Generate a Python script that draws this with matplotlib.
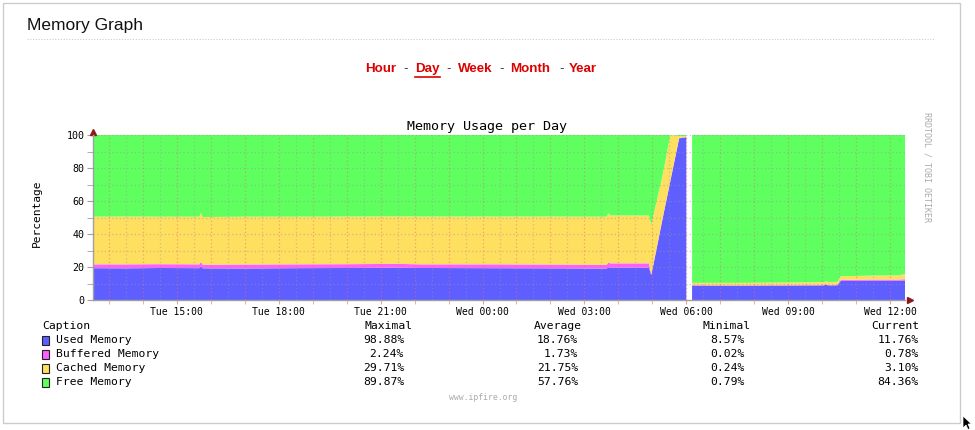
import numpy as np
import matplotlib.pyplot as plt
from matplotlib.patches import Rectangle, Polygon
from matplotlib.lines import Line2D

# ==========================
# DATA
# ==========================

# hours counted from Tue 00:00
hours = [12.53, 13.50, 14.50, 15.66, 15.71, 15.76, 17.00, 18.50, 20.00,
         21.50, 22.20, 24.00, 26.00, 27.65, 27.71, 27.76, 28.90, 28.97,
         29.32, 29.53, 29.79, 30.00, 30.08, 30.17, 31.50, 33.00, 34.05,
         34.10, 34.20, 34.45, 34.55, 35.50, 36.25, 36.44]

used = [19.3, 19.2, 19.4, 19.3, 20.5, 19.2, 19.1, 19.3, 19.4,
        19.6, 19.4, 19.3, 19.2, 19.0, 19.9, 19.6, 19.6, 15.0,
        51.0, 72.0, 98.0, 98.6, np.nan, 8.7, 8.6, 8.7, 8.8,
        9.3, 8.8, 8.9, 11.6, 11.7, 11.7, 11.8]

buffered = [2.3, 2.4, 2.3, 2.3, 2.7, 2.2, 2.4, 2.3, 2.3,
            2.3, 2.2, 2.3, 2.3, 2.3, 2.9, 2.6, 2.6, 0.6,
            0.4, 0.3, 0.2, 0.2, np.nan, 0.3, 0.3, 0.3, 0.3,
            0.3, 0.3, 0.3, 0.6, 0.7, 0.7, 0.8]

cached = [28.9, 29.0, 28.8, 28.9, 29.6, 28.9, 29.0, 28.9, 28.9,
          28.8, 29.0, 29.0, 29.1, 29.2, 29.8, 29.0, 29.0, 30.0,
          26.0, 27.7, 1.2, 0.5, np.nan, 1.4, 1.5, 1.6, 1.7,
          1.7, 1.8, 1.8, 2.2, 2.4, 2.5, 3.1]

free = [49.5, 49.4, 49.5, 49.5, 47.2, 49.7, 49.5, 49.5, 49.4,
        49.3, 49.4, 49.4, 49.4, 49.5, 47.4, 48.8, 48.8, 54.4,
        22.6, 0.0, 0.6, 0.7, np.nan, 89.6, 89.6, 89.4, 89.2,
        88.7, 89.1, 89.0, 85.6, 85.2, 85.1, 84.3]

tick_hours = [15, 18, 21, 24, 27, 30, 33, 36]
tick_labels = ["Tue 15:00", "Tue 18:00", "Tue 21:00", "Wed 00:00",
               "Wed 03:00", "Wed 06:00", "Wed 09:00", "Wed 12:00"]

series_names = ["Used Memory", "Buffered Memory", "Cached Memory", "Free Memory"]
series_colors = ["#5f5fff", "#ff5fff", "#ffdf5f", "#5fff5f"]
maximal = [98.88, 2.24, 29.71, 89.87]
average = [18.76, 1.73, 21.75, 57.76]
minimal = [8.57, 0.02, 0.24, 0.79]
current = [11.76, 0.78, 3.10, 84.36]

nav_links = ["Hour", "Day", "Week", "Month", "Year"]

# ==========================
# FIGURE
# ==========================

W, H = 975, 430
fig = plt.figure(figsize=(W / 100, H / 100), dpi=100)
fig.patch.set_facecolor("white")


def fx(x):
    return x / W


def fy(y):
    return 1 - y / H


mono = "DejaVu Sans Mono"
sans = "Liberation Sans"

# page frame
fig.patches.append(Rectangle((fx(3), fy(423)), fx(957), 420 / H,
                             transform=fig.transFigure, fill=False,
                             edgecolor="#cccccc", lw=1))
fig.text(fx(27), fy(30), "Memory Graph", family=sans, fontsize=12.5,
         color="#111111", ha="left", va="baseline")
fig.add_artist(Line2D([fx(27), fx(935)], [fy(39), fy(39)],
                      transform=fig.transFigure, color="#cccccc",
                      lw=0.8, linestyle=(0, (1, 1.5))))

# mouse pointer left in the screenshot
cursor = [(963, 416), (963, 428), (966, 425), (968, 429.5),
          (970, 428.5), (968, 424), (971.5, 424)]
fig.patches.append(Polygon([(fx(a), fy(b)) for a, b in cursor],
                           closed=True, transform=fig.transFigure,
                           facecolor="black", edgecolor="white", lw=0.5))

# nav links
link_x = [380.7, 427.2, 475.0, 530.0, 582.5]
dash_x = [405.7, 448.3, 502.0, 561.7]
for name, x in zip(nav_links, link_x):
    fig.text(fx(x), fy(69), name, family=sans, fontsize=9.6,
             fontweight="bold", color="#dd0000", ha="center", va="center")
for x in dash_x:
    fig.text(fx(x), fy(69), "-", family=sans, fontsize=9.6,
             color="#333333", ha="center", va="center")
fig.add_artist(Line2D([fx(415), fx(439.5)], [fy(76.5), fy(76.5)],
                      transform=fig.transFigure, color="#dd0000", lw=1.2))

# ==========================
# PLOT
# ==========================

ax = fig.add_axes([fx(93), fy(300), (905 - 93) / W, 165 / H])

ax.stackplot(hours, used, buffered, cached, free,
             colors=series_colors, linewidth=0)

ax.set_xlim(12.53, 36.44)
ax.set_ylim(0, 100)

# grid on top of the areas
for h in np.arange(13, 36.5, 1.0):
    ax.axvline(h, color="#e07070", alpha=0.55, lw=0.9,
               linestyle=(0, (1, 2)), zorder=5)
for h in np.arange(13.5, 36.5, 1.0):
    ax.axvline(h, color="#999999", alpha=0.45, lw=0.9,
               linestyle=(0, (1, 2)), zorder=5)
for v in range(10, 101, 10):
    ax.axhline(v, color="#999999", alpha=0.5, lw=0.9,
               linestyle=(0, (1, 2)), zorder=5)

for side in ["top", "right"]:
    ax.spines[side].set_visible(False)
for side in ["left", "bottom"]:
    ax.spines[side].set_color("#a0a0a0")
    ax.spines[side].set_linewidth(1)

ax.set_yticks(range(0, 101, 20))
ax.set_yticks(range(10, 100, 20), minor=True)
ax.set_xticks(tick_hours)
ax.set_xticklabels(tick_labels)
ax.set_xticks(np.arange(13, 36.5, 1.0), minor=True)

ax.tick_params(axis="y", which="both", length=4, color="#a0a0a0",
               labelsize=7.2, pad=2)
ax.tick_params(axis="x", which="both", length=3, color="#f0a0a0",
               labelsize=7, pad=2)
for lab in ax.get_xticklabels() + ax.get_yticklabels():
    lab.set_family(mono)

# axis arrows
ax.plot([0], [1.02], marker="^", ms=4, color="#8b1a1a",
        transform=ax.transAxes, clip_on=False)
ax.plot([1.006], [0], marker=">", ms=4, color="#8b1a1a",
        transform=ax.transAxes, clip_on=False)

fig.text(fx(486.7), fy(126.7), "Memory Usage per Day", family=mono,
         fontsize=9.6, ha="center", va="center")
fig.text(fx(36.7), fy(213), "Percentage", family=mono, fontsize=8.1,
         rotation=90, ha="center", va="center")
fig.text(fx(927), fy(167), "RRDTOOL / TOBI OETIKER", family=mono,
         fontsize=6, color="#aaaaaa", rotation=270,
         ha="center", va="center")

# ==========================
# LEGEND TABLE
# ==========================

fs = 8.2
fig.text(fx(42), fy(326), "Caption", family=mono, fontsize=fs,
         ha="left", va="center")
headers = ["Maximal", "Average", "Minimal", "Current"]
header_right = [413, 581.5, 750.6, 919]
value_right = [404, 578, 745, 919]
for hd, x in zip(headers, header_right):
    fig.text(fx(x), fy(326), hd, family=mono, fontsize=fs,
             ha="right", va="center")

row_y = [340, 354, 368, 382]
for i, name in enumerate(series_names):
    y = row_y[i]
    fig.patches.append(Rectangle((fx(42), fy(y + 4.5)), 7 / W, 9 / H,
                                 transform=fig.transFigure,
                                 facecolor=series_colors[i],
                                 edgecolor="#222222", lw=0.8))
    fig.text(fx(56.5), fy(y), name, family=mono, fontsize=fs,
             ha="left", va="center")
    cols = [maximal[i], average[i], minimal[i], current[i]]
    for val, x in zip(cols, value_right):
        fig.text(fx(x), fy(y), "%.2f%%" % val, family=mono, fontsize=fs,
                 ha="right", va="center")

fig.text(fx(483), fy(397), "www.ipfire.org", family=mono, fontsize=5.9,
         color="#aaaaaa", ha="center", va="center")

plt.savefig("out.png", dpi=100)
plt.close()
